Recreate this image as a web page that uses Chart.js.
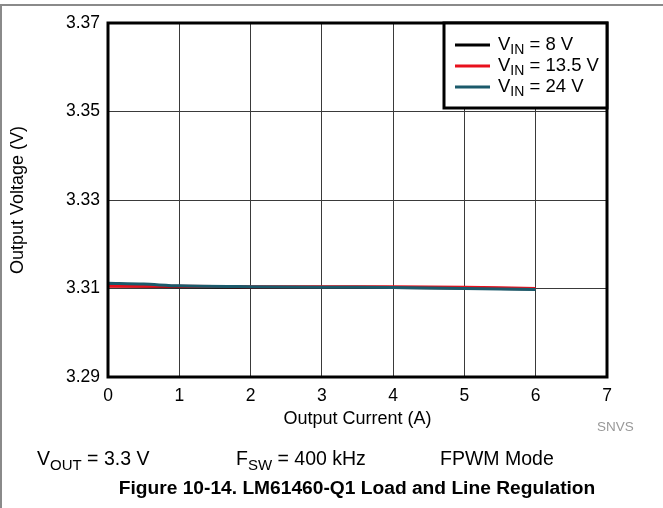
<!DOCTYPE html>
<html>
<head>
<meta charset="utf-8">
<script src="https://cdn.jsdelivr.net/npm/chart.js@4"></script>
<style>
  html, body { margin: 0; padding: 0; background: #fff; }
  #wrap { width: 663px; height: 508px; position: relative; }
</style>
</head>
<body>
<div id="wrap"><canvas id="chart"></canvas></div>
<script>
// data
const currents = [0, 0.5, 1, 2, 3, 4, 5, 6];
const vin8 = [3.3106, 3.3105, 3.3104, 3.3103, 3.3103, 3.3102, 3.3101, 3.3099];
const vin13p5 = [3.3105, 3.3105, 3.3105, 3.3104, 3.3104, 3.3104, 3.3103, 3.3100];
const vin24 = [3.3112, 3.3110, 3.3106, 3.3104, 3.3103, 3.3102, 3.3100, 3.3098];
const vinLabels = ['8', '13.5', '24'];
const seriesColors = ['#000000', '#e8101c', '#1b5a6b'];
const xTicks = [0, 1, 2, 3, 4, 5, 6, 7];
const yTicks = [3.29, 3.31, 3.33, 3.35, 3.37];

const FONT = '"Liberation Sans", Arial, Helvetica, sans-serif';

function toPoints(ys) {
  return currents.map((x, i) => ({ x: x, y: ys[i] }));
}

// draw "V" with a subscript and the rest of the string
function subText(ctx, x, y, main, sub, rest, size) {
  ctx.font = size + 'px ' + FONT;
  ctx.fillText(main, x, y);
  x += ctx.measureText(main).width;
  ctx.font = Math.round(size * 0.78) + 'px ' + FONT;
  ctx.fillText(sub, x, y + size * 0.28);
  x += ctx.measureText(sub).width;
  ctx.font = size + 'px ' + FONT;
  ctx.fillText(rest, x, y);
}

const extras = {
  id: 'extras',
  afterDraw(chart) {
    const ctx = chart.ctx;
    const a = chart.chartArea;
    ctx.save();

    // page frame
    ctx.strokeStyle = '#8a8a8a';
    ctx.lineWidth = 2;
    ctx.beginPath();
    ctx.moveTo(0, 5); ctx.lineTo(663, 5);
    ctx.moveTo(1, 5); ctx.lineTo(1, 508);
    ctx.stroke();

    // plot frame
    ctx.strokeStyle = '#000';
    ctx.lineWidth = 3;
    ctx.strokeRect(a.left, a.top, a.right - a.left, a.bottom - a.top);

    // legend box
    const lx = 444, ly = a.top, lw = a.right - lx, lh = 108 - a.top;
    ctx.fillStyle = '#fff';
    ctx.fillRect(lx, ly, lw, lh);
    ctx.strokeRect(lx, ly, lw, lh);
    ctx.textBaseline = 'middle';
    ctx.textAlign = 'left';
    const rowsY = [45, 66, 87];
    vinLabels.forEach((v, i) => {
      ctx.strokeStyle = seriesColors[i];
      ctx.lineWidth = 3;
      ctx.beginPath();
      ctx.moveTo(455, rowsY[i]);
      ctx.lineTo(490, rowsY[i]);
      ctx.stroke();
      ctx.fillStyle = '#000';
      subText(ctx, 498, rowsY[i], 'V', 'IN', ' = ' + v + ' V', 18.5);
    });

    // notes under the chart
    ctx.fillStyle = '#999';
    ctx.font = '13.5px ' + FONT;
    ctx.fillText('SNVS', 597, 427);

    ctx.fillStyle = '#000';
    subText(ctx, 37, 460, 'V', 'OUT', ' = 3.3 V', 19.5);
    subText(ctx, 236, 460, 'F', 'SW', ' = 400 kHz', 19.5);
    ctx.font = '19.5px ' + FONT;
    ctx.fillText('FPWM Mode', 440, 460);

    ctx.font = 'bold 19.2px ' + FONT;
    ctx.textAlign = 'center';
    ctx.fillText('Figure 10-14. LM61460-Q1 Load and Line Regulation', 357, 489);
    ctx.restore();
  }
};

const ctx = document.getElementById('chart').getContext('2d');
new Chart(ctx, {
  type: 'scatter',
  data: {
    datasets: [
      { label: 'VIN = 8 V', data: toPoints(vin8), borderColor: seriesColors[0], order: 3 },
      { label: 'VIN = 13.5 V', data: toPoints(vin13p5), borderColor: seriesColors[1], order: 2 },
      { label: 'VIN = 24 V', data: toPoints(vin24), borderColor: seriesColors[2], order: 1 }
    ].map(d => Object.assign(d, { showLine: true, pointRadius: 0, borderWidth: 3, tension: 0.3, fill: false }))
  },
  options: {
    responsive: true,
    maintainAspectRatio: false,
    animation: false,
    layout: { padding: { left: 0, top: 23, right: 56, bottom: 78 } },
    plugins: { legend: { display: false }, tooltip: { enabled: false } },
    scales: {
      x: {
        type: 'linear',
        min: 0, max: 7,
        afterFit: s => { s.height = 53; },
        afterBuildTicks: s => { s.ticks = xTicks.map(v => ({ value: v })); },
        grid: { color: '#3a3a3a', lineWidth: 1, drawTicks: false },
        border: { display: false },
        ticks: { color: '#000', padding: 9, font: { family: FONT, size: 17.5 } },
        title: { display: true, text: 'Output Current (A)', color: '#000', padding: 0, font: { family: FONT, size: 18 } }
      },
      y: {
        type: 'linear',
        min: 3.29, max: 3.37,
        afterFit: s => { s.width = 108; },
        afterBuildTicks: s => { s.ticks = yTicks.map(v => ({ value: v })); },
        grid: { color: '#3a3a3a', lineWidth: 1, drawTicks: false },
        border: { display: false },
        ticks: { color: '#000', padding: 8, font: { family: FONT, size: 17.5 }, callback: v => v.toFixed(2) },
        title: { display: true, text: 'Output Voltage (V)', color: '#000', padding: { top: 7 }, font: { family: FONT, size: 18 } }
      }
    }
  },
  plugins: [extras]
});
</script>
</body>
</html>
